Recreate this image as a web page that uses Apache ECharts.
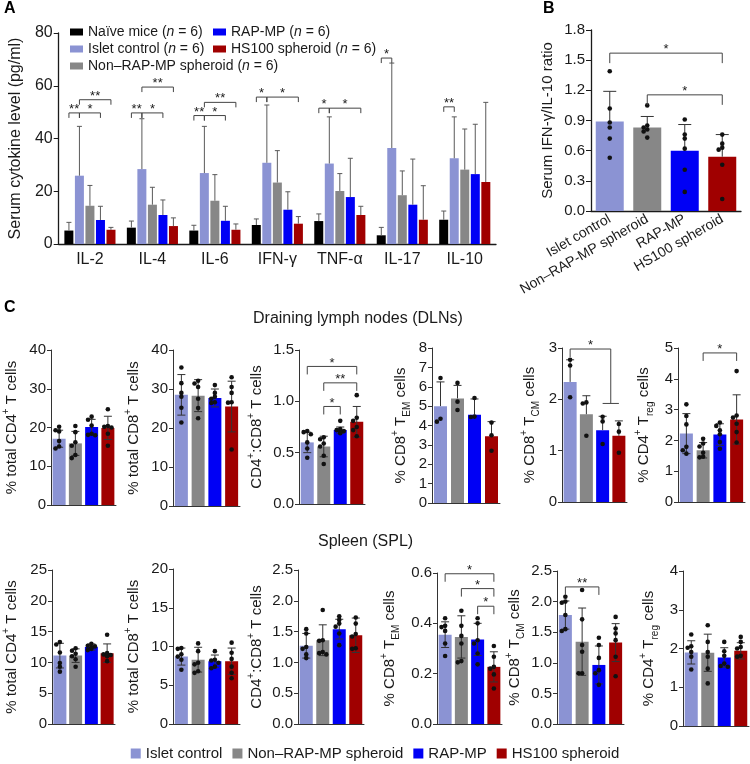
<!DOCTYPE html>
<html>
<head>
<meta charset="utf-8">
<script src="https://cdn.jsdelivr.net/npm/echarts@6/dist/echarts.min.js"></script>
<style>
  html, body { margin: 0; padding: 0; background: #fff; }
  #chart { width: 750px; height: 764px; }
</style>
</head>
<body>
<div id="chart"></div>
<script>
// ---- shared ----
const groups = ['Islet control', 'Non–RAP-MP spheroid', 'RAP-MP', 'HS100 spheroid'];
const groupColors = ['#8b93d3', '#878787', '#0000f5', '#a00000'];

// ---- panel A: serum cytokines (mean, SD) ----
const cytokines = ['IL-2', 'IL-4', 'IL-6', 'IFN-γ', 'TNF-α', 'IL-17', 'IL-10'];
const naiveMean = [5.1, 6.2, 5.1, 7.2, 8.7, 3.3, 9.2];
const naiveSd = [3.1, 2.5, 2.0, 2.3, 2.7, 3.0, 3.3];
const isletMean = [25.9, 28.4, 26.9, 30.8, 30.5, 36.4, 32.5];
const isletSd = [18.7, 19.1, 17.7, 21.9, 17.7, 32.2, 15.7];
const nonMean = [14.5, 14.9, 16.4, 23.3, 20.1, 18.5, 28.2];
const nonSd = [7.7, 6.6, 9.9, 12.1, 6.6, 9.2, 15.4];
const rapMean = [9.1, 11.0, 8.8, 13.0, 17.8, 14.9, 26.5];
const rapSd = [5.2, 5.7, 5.5, 6.8, 14.7, 17.3, 18.9];
const hsMean = [5.4, 6.8, 5.4, 7.7, 11.0, 9.2, 23.5];
const hsSd = [0.9, 3.1, 2.2, 2.7, 3.3, 12.9, 30.2];
// [category, series a, series b, height, label]
const cytokineSig = [
  [0, 0, 1, 49.7, '**'], [0, 1, 3, 49.7, '*'], [0, 1, 4, 54.7, '**'],
  [1, 0, 1, 49.7, '**'], [1, 1, 3, 49.7, '*'], [1, 1, 4, 59.5, '**'],
  [2, 0, 1, 48.7, '**'], [2, 1, 3, 48.7, '*'], [2, 1, 4, 53.7, '**'],
  [3, 0, 1, 55.7, '*'], [3, 1, 4, 55.7, '*'],
  [4, 0, 1, 51.5, '*'], [4, 1, 4, 51.5, '*'],
  [5, 0, 1, 70.5, '*'],
  [6, 0, 1, 52.0, '**']
];

// ---- panel B: IFN-γ/IL-10 ratio ----
const ratioMean = [0.89, 0.83, 0.60, 0.54];
const ratioSd = [0.30, 0.11, 0.26, 0.22];
const ratioPts = [
  [1.39, 1.02, 0.88, 0.83, 0.72, 0.53],
  [1.05, 0.85, 0.83, 0.81, 0.79, 0.73],
  [0.91, 0.76, 0.72, 0.62, 0.41, 0.19],
  [0.76, 0.67, 0.63, 0.61, 0.46, 0.12]
];
const ratioSig = [[0, 3, 1.57, '*'], [1, 3, 1.155, '*']];

// ---- panel C, draining lymph nodes ----
const dlnCd4Mean = [17.1, 15.9, 20.1, 19.9];
const dlnCd4Sd = [2.2, 3.1, 2.0, 3.0];
const dlnCd4Pts = [[20.2, 19.3, 19.0, 16.5, 15.1, 14.6], [20.4, 18.8, 16.2, 15.3, 12.9, 12.1], [22.8, 22.0, 20.5, 18.4, 18.1, 18.0], [24.7, 20.4, 20.2, 20.0, 18.4, 15.3]];
const dlnCd8Mean = [28.5, 28.3, 27.7, 25.5];
const dlnCd8Sd = [5.2, 4.1, 2.3, 6.5];
const dlnCd8Pts = [[35.5, 31.5, 29.0, 28.0, 25.2, 21.4], [32.1, 31.4, 30.5, 27.5, 25.1, 22.5], [31.0, 29.0, 28.0, 27.5, 26.6, 26.4], [33.0, 30.5, 29.0, 26.6, 26.5, 14.5]];
const dlnRatioMean = [0.60, 0.56, 0.72, 0.80];
const dlnRatioSd = [0.10, 0.10, 0.03, 0.15];
const dlnRatioPts = [[0.71, 0.70, 0.68, 0.60, 0.54, 0.45], [0.65, 0.63, 0.59, 0.56, 0.47, 0.39], [0.81, 0.73, 0.72, 0.71, 0.71, 0.69], [1.06, 0.84, 0.81, 0.75, 0.72, 0.66]];
const dlnRatioSig = [[0, 3, 1.34, '*'], [1, 3, 1.18, '**'], [1, 2, 0.95, '*']];
const dlnTemMean = [5.0, 5.4, 4.56, 3.45];
const dlnTemSd = [1.25, 0.67, 0.81, 0.75];
const dlnTemPts = [[6.45, 4.35, 4.2], [6.2, 5.23, 4.8], [5.42, 4.46, 4.44], [4.15, 3.5, 2.7]];
const dlnTcmMean = [2.34, 1.71, 1.40, 1.29];
const dlnTcmSd = [0.43, 0.36, 0.27, 0.29];
const dlnTcmPts = [[2.77, 2.66, 2.04], [1.94, 1.92, 1.29], [1.66, 1.57, 1.13], [1.52, 1.37, 0.96]];
// [from, to, height, label, right leg down to, plain line]
const dlnTcmSig = [[0, 2.5, 2.98, '*', 1.92], [2, 3, 1.92, '', null, true]];
const dlnTregMean = [2.22, 1.68, 2.19, 2.68];
const dlnTregSd = [0.65, 0.25, 0.35, 0.80];
const dlnTregPts = [[3.17, 2.79, 2.52, 1.79, 1.68, 1.57], [2.05, 1.9, 1.8, 1.6, 1.47, 1.45], [2.58, 2.47, 2.33, 2.2, 1.95, 1.73], [4.25, 2.81, 2.74, 2.54, 2.27, 1.93]];
const dlnTregSig = [[1, 3, 4.84, '*']];

// ---- panel C, spleen ----
const splCd4Mean = [11.1, 11.1, 12.5, 11.5];
const splCd4Sd = [2.0, 1.1, 0.5, 1.5];
const splCd4Pts = [[13.3, 12.9, 11.6, 9.9, 9.3, 8.5], [12.3, 11.9, 11.4, 11.0, 10.5, 9.3], [13.0, 12.7, 12.6, 12.4, 12.2, 12.0], [14.5, 11.5, 11.3, 11.2, 11.0, 10.2]];
const splCd8Mean = [8.7, 8.3, 8.1, 8.1];
const splCd8Sd = [1.1, 1.6, 0.8, 1.7];
const splCd8Pts = [[9.8, 9.7, 9.0, 8.7, 8.3, 7.0], [10.4, 9.4, 7.9, 7.7, 6.8, 6.6], [9.4, 8.3, 8.2, 7.9, 7.4, 7.2], [10.5, 9.2, 8.4, 7.4, 6.6, 5.9]];
const splRatioMean = [1.27, 1.36, 1.54, 1.44];
const splRatioSd = [0.20, 0.25, 0.16, 0.28];
const splRatioPts = [[1.54, 1.47, 1.25, 1.22, 1.13, 1.07], [1.85, 1.36, 1.35, 1.17, 1.15, 1.13], [1.75, 1.69, 1.63, 1.58, 1.47, 1.28], [1.73, 1.63, 1.46, 1.42, 1.23, 1.22]];
const splTemMean = [0.355, 0.346, 0.336, 0.227];
const splTemSd = [0.051, 0.084, 0.064, 0.06];
const splTemPts = [[0.42, 0.39, 0.385, 0.37, 0.32, 0.27], [0.45, 0.39, 0.35, 0.32, 0.25, 0.245], [0.42, 0.40, 0.333, 0.32, 0.28, 0.237], [0.31, 0.267, 0.227, 0.22, 0.197, 0.141]];
const splTemSig = [[0, 3, 0.597, '*'], [1, 3, 0.538, '*'], [2, 3, 0.468, '*']];
const splTcmMean = [1.78, 1.345, 0.965, 1.33];
const splTcmSd = [0.23, 0.55, 0.31, 0.31];
const splTcmPts = [[2.08, 2.0, 1.98, 1.78, 1.55, 1.52], [2.19, 1.71, 1.29, 1.18, 0.83, 0.83], [1.41, 1.29, 1.08, 0.88, 0.83, 0.64], [1.75, 1.56, 1.48, 1.37, 1.10, 0.78]];
const splTcmSig = [[0, 2, 2.24, '**']];
const splTregMean = [1.9, 1.89, 1.77, 1.94];
const splTregSd = [0.3, 0.48, 0.25, 0.21];
const splTregPts = [[2.36, 2.06, 2.02, 1.91, 1.79, 1.46], [2.6, 2.17, 1.91, 1.79, 1.48, 1.1], [2.17, 1.93, 1.81, 1.61, 1.55, 1.53], [2.3, 2.17, 2.04, 2.0, 1.81, 1.79]];

const FONT = "'Liberation Sans', Arial, sans-serif";
const INK = '#1a1a1a';

// C sub-panels: data + axis range + layout
const cPanels = [
  { mean: dlnCd4Mean, sd: dlnCd4Sd, pts: dlnCd4Pts, sig: [], max: 40, step: 10, dec: 0, both: true, name: '% total CD4{sup|+} T cells', box: [50, 350, 66, 155], gap: 28 },
  { mean: dlnCd8Mean, sd: dlnCd8Sd, pts: dlnCd8Pts, sig: [], max: 40, step: 10, dec: 0, both: true, name: '% total CD8{sup|+} T cells', box: [173, 350, 67, 156], gap: 28 },
  { mean: dlnRatioMean, sd: dlnRatioSd, pts: dlnRatioPts, sig: dlnRatioSig, max: 1.5, step: 0.5, dec: 1, both: true, name: 'CD4{sup|+}:CD8{sup|+} T cells', box: [299, 350, 66, 154], gap: 31 },
  { mean: dlnTemMean, sd: dlnTemSd, pts: dlnTemPts, sig: [], max: 8, step: 1, dec: 0, both: false, name: '% CD8{sup|+} T{sub|EM} cells', box: [432, 348, 68, 155], gap: 20 },
  { mean: dlnTcmMean, sd: dlnTcmSd, pts: dlnTcmPts, sig: dlnTcmSig, max: 3, step: 1, dec: 0, both: false, name: '% CD8{sup|+} T{sub|CM} cells', box: [562, 348, 65, 154], gap: 21 },
  { mean: dlnTregMean, sd: dlnTregSd, pts: dlnTregPts, sig: dlnTregSig, max: 5, step: 1, dec: 0, both: true, name: '% CD4{sup|+} T{sub|reg} cells', box: [678, 348, 67, 154], gap: 23 },
  { mean: splCd4Mean, sd: splCd4Sd, pts: splCd4Pts, sig: [], max: 25, step: 5, dec: 0, both: true, name: '% total CD4{sup|+} T cells', box: [49, 570, 66, 154], gap: 29 },
  { mean: splCd8Mean, sd: splCd8Sd, pts: splCd8Pts, sig: [], max: 20, step: 5, dec: 0, both: true, name: '% total CD8{sup|+} T cells', box: [173, 569, 67, 155], gap: 28 },
  { mean: splRatioMean, sd: splRatioSd, pts: splRatioPts, sig: [], max: 2.5, step: 0.5, dec: 1, both: true, name: 'CD4{sup|+}:CD8{sup|+} T cells', box: [298, 570, 66, 154], gap: 29 },
  { mean: splTemMean, sd: splTemSd, pts: splTemPts, sig: splTemSig, max: 0.6, step: 0.2, dec: 1, both: true, name: '% CD8{sup|+} T{sub|EM} cells', box: [437, 573, 65, 151], gap: 36 },
  { mean: splTcmMean, sd: splTcmSd, pts: splTcmPts, sig: splTcmSig, max: 2.5, step: 0.5, dec: 1, both: true, name: '% CD8{sup|+} T{sub|CM} cells', box: [557, 571, 67, 153], gap: 31 },
  { mean: splTregMean, sd: splTregSd, pts: splTregPts, sig: [], max: 4, step: 1, dec: 0, both: true, name: '% CD4{sup|+} T{sub|reg} cells', box: [683, 571, 66, 155], gap: 23 }
];

const A_STEP = 10.5;

function errSeries(xi, yi, mean, sd, xOff, both, cap, color) {
  return {
    type: 'custom', xAxisIndex: xi, yAxisIndex: yi, z: 4, silent: true,
    data: mean.map((m, i) => [i, m, sd[i]]),
    encode: { x: 0, y: 1 },
    renderItem: (params, api) => {
      const idx = api.value(0), m = api.value(1), e = api.value(2);
      const x = api.coord([idx, 0])[0] + xOff;
      const yt = api.coord([idx, m + e])[1];
      const ym = api.coord([idx, m])[1];
      const yb = api.coord([idx, Math.max(0, m - e)])[1];
      const st = { stroke: color, lineWidth: 1 };
      const ch = [
        { type: 'line', shape: { x1: x, y1: both ? yb : ym, x2: x, y2: yt }, style: st },
        { type: 'line', shape: { x1: x - cap, y1: yt, x2: x + cap, y2: yt }, style: st }
      ];
      if (both) ch.push({ type: 'line', shape: { x1: x - cap, y1: yb, x2: x + cap, y2: yb }, style: st });
      return { type: 'group', children: ch };
    }
  };
}

function dotSeries(xi, yi, pts) {
  const n = pts[0].length;
  const dims = ['x'];
  for (let k = 0; k < n; k++) dims.push('p' + k);
  return {
    type: 'custom', xAxisIndex: xi, yAxisIndex: yi, z: 5, silent: true,
    dimensions: dims,
    data: pts.map((p, i) => [i].concat(p)),
    encode: { x: 0, y: 1 },
    renderItem: (params, api) => {
      const idx = api.value(0);
      const cx = api.coord([idx, 0])[0];
      const ys = [];
      for (let k = 1; k <= n; k++) ys.push(api.coord([idx, api.value(k)])[1]);
      ys.sort((a, b) => a - b);
      const placed = [];
      const cands = [0, -3.6, 3.6, -5.5, 5.5];
      const ch = ys.map(y => {
        let dx = cands[0];
        for (const c of cands) {
          if (!placed.some(p => Math.abs(p[0] - c) < 3.5 && Math.abs(p[1] - y) < 3.5)) { dx = c; break; }
        }
        placed.push([dx, y]);
        return { type: 'circle', shape: { cx: cx + dx, cy: y, r: 2.3 }, style: { fill: '#111' } };
      });
      return { type: 'group', children: ch };
    }
  };
}

function catX(api, v) {
  const a = Math.floor(v), b = Math.ceil(v);
  const xa = api.coord([a, 0])[0];
  if (a === b) return xa;
  const xb = api.coord([b, 0])[0];
  return xa + (xb - xa) * (v - a);
}

function sigSeries(xi, yi, list, xOf, leg, color) {
  return {
    type: 'custom', xAxisIndex: xi, yAxisIndex: yi, z: 6, silent: true,
    data: list.map(b => [0, b[2]]),
    encode: { x: 0, y: 1 },
    renderItem: (params, api) => {
      const b = list[params.dataIndex];
      const y = api.coord([0, b[2]])[1];
      const x1 = xOf(api, b[0]), x2 = xOf(api, b[1]);
      let pts;
      if (b[5]) pts = [[x1, y], [x2, y]];
      else {
        const y2 = b[4] != null ? api.coord([0, b[4]])[1] : y + leg;
        pts = [[x1, y + leg], [x1, y], [x2, y], [x2, y2]];
      }
      const ch = [{ type: 'polyline', shape: { points: pts }, style: { stroke: color, fill: null, lineWidth: 1 } }];
      if (b[3]) ch.push({
        type: 'text',
        style: { text: b[3], x: (x1 + x2) / 2, y: y + 3, textAlign: 'center', textVerticalAlign: 'bottom', font: '13px ' + FONT, fill: INK }
      });
      return { type: 'group', children: ch };
    }
  };
}

const richName = {
  sup: { fontSize: 10, verticalAlign: 'top', lineHeight: 22, fontFamily: FONT, color: INK },
  sub: { fontSize: 10, verticalAlign: 'bottom', lineHeight: 22, fontFamily: FONT, color: INK }
};

const grid = [], xAxis = [], yAxis = [], series = [];

// ---- A ----
grid.push({ left: 55, top: 33, width: 441, height: 211 });
xAxis.push({
  gridIndex: 0, type: 'category', data: cytokines,
  axisLine: { lineStyle: { color: INK, width: 1.3 } }, axisTick: { show: false },
  axisLabel: { fontSize: 16, color: INK, margin: 8 }
});
yAxis.push({
  gridIndex: 0, type: 'value', min: 0, max: 80, interval: 20,
  name: 'Serum cytokine level (pg/ml)', nameLocation: 'middle', nameGap: 22,
  nameTextStyle: { fontSize: 16, color: INK },
  axisLine: { show: true, lineStyle: { color: INK, width: 1.3 } },
  axisTick: { show: true, length: 5, lineStyle: { color: INK } },
  axisLabel: { fontSize: 16, color: INK, margin: 6 }, splitLine: { show: false }
});
const aNames = ['Naïve mice'].concat(groups);
const aColors = ['#000000'].concat(groupColors);
const aMeans = [naiveMean, isletMean, nonMean, rapMean, hsMean];
const aSds = [naiveSd, isletSd, nonSd, rapSd, hsSd];
aNames.forEach((nm, i) => {
  series.push({
    type: 'bar', name: nm, xAxisIndex: 0, yAxisIndex: 0, data: aMeans[i],
    barWidth: 9, barGap: '17%', itemStyle: { color: aColors[i] }, z: 2
  });
});
aNames.forEach((nm, i) => {
  series.push(errSeries(0, 0, aMeans[i], aSds[i], (i - 2) * A_STEP, false, 2.5, '#5a5a5a'));
});
series.push(sigSeries(0, 0, cytokineSig.map(s => [[s[0], s[1]], [s[0], s[2]], s[3], s[4]]),
  (api, p) => api.coord([p[0], 0])[0] + (p[1] - 2) * A_STEP, 5, '#444'));

// ---- B ----
grid.push({ left: 591, top: 30, width: 150, height: 181 });
xAxis.push({
  gridIndex: 1, type: 'category', data: groups,
  axisLine: { lineStyle: { color: INK, width: 1.3 } }, axisTick: { show: false },
  axisLabel: { fontSize: 14, color: INK, rotate: 30, interval: 0, margin: 7 }
});
yAxis.push({
  gridIndex: 1, type: 'value', min: 0, max: 1.8, interval: 0.3,
  name: 'Serum IFN-γ/IL-10 ratio', nameLocation: 'middle', nameGap: 36,
  nameTextStyle: { fontSize: 15, color: INK },
  axisLine: { show: true, lineStyle: { color: INK, width: 1.3 } },
  axisTick: { show: true, length: 5, lineStyle: { color: INK } },
  axisLabel: { fontSize: 15, color: INK, margin: 6, formatter: v => v.toFixed(1) }, splitLine: { show: false }
});
series.push({
  type: 'bar', xAxisIndex: 1, yAxisIndex: 1, barWidth: 28, z: 2,
  data: ratioMean.map((v, i) => ({ value: v, itemStyle: { color: groupColors[i] } }))
});
series.push(errSeries(1, 1, ratioMean, ratioSd, 0, false, 6.5, '#333'));
series.push(dotSeries(1, 1, ratioPts));
series.push(sigSeries(1, 1, ratioSig, catX, 10, '#444'));

// ---- C ----
cPanels.forEach((p, k) => {
  const gi = k + 2;
  grid.push({ left: p.box[0], top: p.box[1], width: p.box[2], height: p.box[3] });
  xAxis.push({
    gridIndex: gi, type: 'category', data: groups,
    axisLine: { lineStyle: { color: '#333', width: 1 } }, axisTick: { show: false }, axisLabel: { show: false }
  });
  yAxis.push({
    gridIndex: gi, type: 'value', min: 0, max: p.max, interval: p.step,
    name: p.name, nameLocation: 'middle', nameGap: p.gap,
    nameTextStyle: { fontSize: 15, color: INK, lineHeight: 22, rich: richName },
    axisLine: { show: true, lineStyle: { color: '#333', width: 1 } },
    axisTick: { show: true, length: 4, lineStyle: { color: '#333' } },
    axisLabel: { fontSize: 15, color: INK, margin: 5, formatter: v => v.toFixed(p.dec) },
    splitLine: { show: false }
  });
  series.push({
    type: 'bar', xAxisIndex: gi, yAxisIndex: gi, barWidth: 13, z: 2,
    data: p.mean.map((v, i) => ({ value: v, itemStyle: { color: groupColors[i] } }))
  });
  series.push(errSeries(gi, gi, p.mean, p.sd, 0, p.both, 4, '#333'));
  series.push(dotSeries(gi, gi, p.pts));
  if (p.sig.length) series.push(sigSeries(gi, gi, p.sig, catX, 8, '#444'));
});

const chart = echarts.init(document.getElementById('chart'));
chart.setOption({
  animation: false,
  textStyle: { fontFamily: FONT },
  title: [
    { text: 'A', left: 4, top: 1, padding: 0, textStyle: { fontSize: 16, fontWeight: 'bold', color: '#000' } },
    { text: 'B', left: 543, top: 1, padding: 0, textStyle: { fontSize: 16, fontWeight: 'bold', color: '#000' } },
    { text: 'C', left: 4, top: 300, padding: 0, textStyle: { fontSize: 16, fontWeight: 'bold', color: '#000' } },
    { text: 'Draining lymph nodes (DLNs)', left: 253, top: 311, padding: 0, textStyle: { fontSize: 16, fontWeight: 'normal', color: INK } },
    { text: 'Spleen (SPL)', left: 318, top: 534, padding: 0, textStyle: { fontSize: 16, fontWeight: 'normal', color: INK } }
  ],
  legend: [
    {
      left: 70, top: 25, orient: 'vertical', padding: 0, itemGap: 3, icon: 'rect', itemWidth: 13, itemHeight: 7,
      data: ['Naïve mice', 'Islet control', 'Non–RAP-MP spheroid'],
      formatter: n => n + ' ({i|n} = 6)',
      textStyle: { fontSize: 14, color: INK, rich: { i: { fontStyle: 'italic', fontSize: 14, color: INK } } }
    },
    {
      left: 213, top: 25, orient: 'vertical', padding: 0, itemGap: 3, icon: 'rect', itemWidth: 13, itemHeight: 7,
      data: ['RAP-MP', 'HS100 spheroid'],
      formatter: n => n + ' ({i|n} = 6)',
      textStyle: { fontSize: 14, color: INK, rich: { i: { fontStyle: 'italic', fontSize: 14, color: INK } } }
    },
    {
      left: 'center', top: 746, padding: 0, itemGap: 10, icon: 'rect', itemWidth: 10, itemHeight: 10,
      data: groups, textStyle: { fontSize: 15, color: INK }
    }
  ],
  grid: grid, xAxis: xAxis, yAxis: yAxis, series: series
});
</script>
</body>
</html>
